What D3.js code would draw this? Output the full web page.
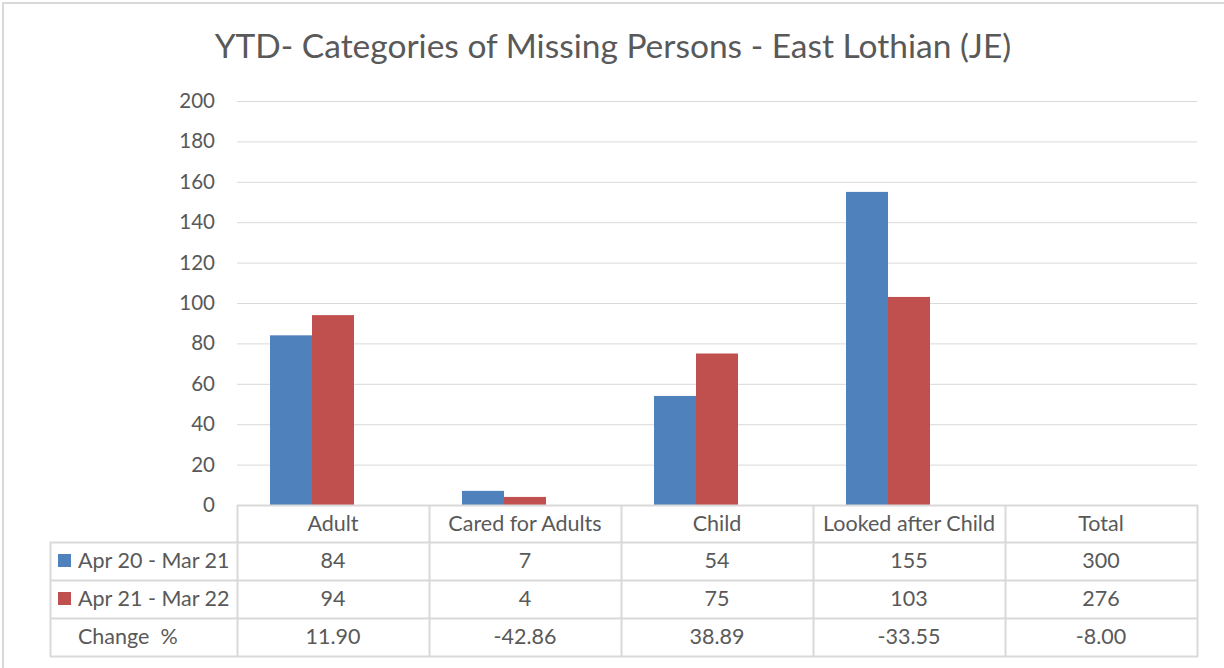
<!DOCTYPE html>
<html>
<head>
<meta charset="utf-8">
<script src="https://cdn.jsdelivr.net/npm/d3@7"></script>
<style>
  body { margin: 0; background: #fff; }
  text { font-family: Lato, "Open Sans", sans-serif; fill: #595959; }
</style>
</head>
<body>
<svg id="chart" width="1224" height="668"></svg>
<script>
// chart data
var categories = ["Adult", "Cared for Adults", "Child", "Looked after Child", "Total"];
var seriesNames = ["Apr 20 - Mar 21", "Apr 21 - Mar 22"];
var values2021 = [84, 7, 54, 155, 300];
var values2022 = [94, 4, 75, 103, 276];
var changePct = ["11.90", "-42.86", "38.89", "-33.55", "-8.00"];
var yTicks = [0, 20, 40, 60, 80, 100, 120, 140, 160, 180, 200];
var colors = ["#4f81bd", "#c0504d"];

var svg = d3.select("#chart");
var grid = "#d9d9d9";

// outer frame
svg.append("rect")
    .attr("x", 3).attr("y", 3)
    .attr("width", 1240).attr("height", 700)
    .attr("fill", "none")
    .attr("stroke", grid)
    .attr("stroke-width", 2);

svg.append("text")
    .attr("x", 613).attr("y", 58)
    .attr("text-anchor", "middle")
    .attr("font-size", "33.5px")
    .text("YTD- Categories of Missing Persons - East Lothian (JE)");

var x = d3.scaleBand().domain(categories).range([237, 1197]);
// three slots per category, the third (change %) has no bar
var xInner = d3.scaleBand().domain([0, 1, 2]).range([33, 159]);
var y = d3.scaleLinear().domain([0, 200]).range([505, 101]);

// gridlines
svg.append("g").selectAll("line")
    .data(yTicks)
    .join("line")
    .attr("x1", 237).attr("x2", 1197)
    .attr("y1", function(d) { return y(d) + 0.5; })
    .attr("y2", function(d) { return y(d) + 0.5; })
    .attr("stroke", grid)
    .attr("stroke-width", 1);

// y axis labels
var yAxis = d3.axisLeft(y).tickValues(yTicks).tickSize(0).tickPadding(0);
var ga = svg.append("g").attr("transform", "translate(215,0)").call(yAxis);
ga.select(".domain").remove();
ga.selectAll("text")
    .attr("font-size", "20.5px")
    .attr("font-family", "Lato, sans-serif")
    .attr("fill", "#595959");

// bars (Total is not plotted)
var rows = [values2021, values2022];
var barData = [];
categories.forEach(function(c, i) {
    if (c === "Total") return;
    rows.forEach(function(vals, s) {
        barData.push({ cat: c, s: s, v: vals[i] });
    });
});

svg.append("g").selectAll("rect")
    .data(barData)
    .join("rect")
    .attr("x", function(d) { return x(d.cat) + xInner(d.s); })
    .attr("width", xInner.bandwidth())
    .attr("y", function(d) { return y(d.v); })
    .attr("height", function(d) { return y(0) - y(d.v); })
    .attr("fill", function(d) { return colors[d.s]; });

// data table
var rowY = [505, 542, 580, 618, 656];
var fs = "21.5px";
var tbl = svg.append("g");
// horizontal lines
tbl.selectAll("line.h")
    .data(rowY)
    .join("line")
    .attr("class", "h")
    .attr("x1", function(d, i) { return i === 0 ? 237 : 50; })
    .attr("x2", 1198)
    .attr("y1", function(d) { return d + 0.5; })
    .attr("y2", function(d) { return d + 0.5; })
    .attr("stroke", grid)
    .attr("stroke-width", 2);
// vertical lines
var colX = categories.map(function(c) { return x(c); }).concat([x.range()[1]]);
tbl.selectAll("line.v")
    .data(colX)
    .join("line")
    .attr("class", "v")
    .attr("x1", function(d) { return d + 0.5; })
    .attr("x2", function(d) { return d + 0.5; })
    .attr("y1", 505)
    .attr("y2", 657)
    .attr("stroke", grid)
    .attr("stroke-width", 2);
tbl.append("line")
    .attr("x1", 50.5).attr("x2", 50.5)
    .attr("y1", 542).attr("y2", 657)
    .attr("stroke", grid).attr("stroke-width", 2);

// header row
tbl.selectAll("text.head")
    .data(categories)
    .join("text")
    .attr("class", "head")
    .attr("x", function(d) { return x(d) + x.bandwidth() / 2; })
    .attr("y", 531)
    .attr("text-anchor", "middle")
    .attr("font-size", fs)
    .text(function(d) { return d; });

var tableRows = [values2021, values2022, changePct];
var rowLabels = seriesNames.concat(["Change  %"]);
tableRows.forEach(function(vals, r) {
    var base = rowY[r + 1] + 26;
    tbl.selectAll("text.r" + r)
        .data(vals)
        .join("text")
        .attr("class", "r" + r)
        .attr("x", function(d, i) { return x(categories[i]) + x.bandwidth() / 2; })
        .attr("y", base)
        .attr("text-anchor", "middle")
        .attr("font-size", fs)
        .text(function(d) { return d; });
    if (r < 2) {
        tbl.append("rect")
            .attr("x", 58).attr("y", rowY[r + 1] + 12)
            .attr("width", 13).attr("height", 13)
            .attr("fill", colors[r]);
    }
    tbl.append("text")
        .attr("x", 78).attr("y", base)
        .attr("font-size", fs)
        .style("white-space", "pre")
        .text(rowLabels[r]);
});
</script>
</body>
</html>
